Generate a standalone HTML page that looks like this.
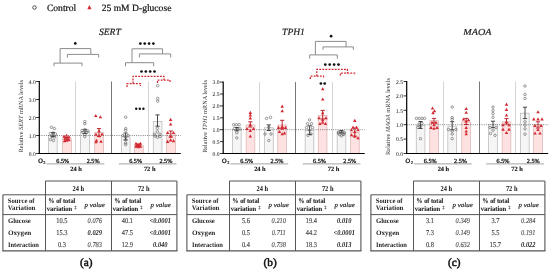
<!DOCTYPE html>
<html><head><meta charset="utf-8"><style>
html,body{margin:0;padding:0;background:#fff;}
svg{display:block;font-family:"Liberation Serif", serif;will-change:transform;text-rendering:geometricPrecision;}
</style></head><body>
<svg width="550" height="272" viewBox="0 0 550 272">
<rect width="550" height="272" fill="#fff"/>
<circle cx="34.5" cy="7.5" r="1.75" fill="none" stroke="#444" stroke-width="0.95"/>
<text x="46.9" y="10.6" font-size="9.6" text-anchor="start" font-weight="normal" font-style="normal" fill="#111" textLength="29.4" lengthAdjust="spacingAndGlyphs" stroke="#111" stroke-width="0.2" >Control</text>
<polygon points="89.4,5.0 91.5,9.2 87.3,9.2" fill="#d22a33"/>
<text x="101.7" y="10.6" font-size="9.6" text-anchor="start" font-weight="normal" font-style="normal" fill="#111" textLength="69.7" lengthAdjust="spacingAndGlyphs" stroke="#111" stroke-width="0.2" >25 mM D-glucose</text>
<text x="98.9" y="34.6" font-size="9.6" text-anchor="start" font-weight="normal" font-style="italic" fill="#222" textLength="21.9" lengthAdjust="spacingAndGlyphs" stroke="#222" stroke-width="0.2" >SERT</text>
<line x1="75.5" y1="81.5" x2="75.5" y2="153.5" stroke="#d0d0d0" stroke-width="0.9" />
<line x1="111.5" y1="81.5" x2="111.5" y2="153.5" stroke="#777" stroke-width="1.0" />
<line x1="148.5" y1="81.5" x2="148.5" y2="153.5" stroke="#d0d0d0" stroke-width="0.9" />
<rect x="48.45" y="135.5" width="8.700000000000001" height="18.0" fill="#f5f5f5" stroke="#b5b5b5" stroke-width="0.7"/>
<rect x="62.65" y="138.74" width="8.700000000000001" height="14.76" fill="#fee2e2" stroke="#dcb0b0" stroke-width="0.7"/>
<rect x="80.64999999999999" y="131.9" width="8.700000000000001" height="21.599999999999998" fill="#f5f5f5" stroke="#b5b5b5" stroke-width="0.7"/>
<rect x="94.75" y="132.44" width="8.700000000000001" height="21.06" fill="#fee2e2" stroke="#dcb0b0" stroke-width="0.7"/>
<rect x="121.35" y="136.94" width="8.700000000000001" height="16.560000000000002" fill="#f5f5f5" stroke="#b5b5b5" stroke-width="0.7"/>
<rect x="134.54999999999998" y="145.4" width="8.700000000000001" height="8.1" fill="#fee2e2" stroke="#dcb0b0" stroke-width="0.7"/>
<rect x="153.25" y="121.46000000000001" width="8.700000000000001" height="32.04" fill="#f5f5f5" stroke="#b5b5b5" stroke-width="0.7"/>
<rect x="166.65" y="133.7" width="8.700000000000001" height="19.8" fill="#fee2e2" stroke="#dcb0b0" stroke-width="0.7"/>
<line x1="39.3" y1="135.5" x2="180.8" y2="135.5" stroke="#333" stroke-width="0.6" stroke-dasharray="1,1.2"/>
<line x1="39.3" y1="81.0" x2="39.3" y2="154.1" stroke="#000" stroke-width="1.2" />
<line x1="38.699999999999996" y1="153.5" x2="180.8" y2="153.5" stroke="#000" stroke-width="1.2" />
<line x1="36.099999999999994" y1="153.5" x2="39.3" y2="153.5" stroke="#000" stroke-width="0.8" />
<text x="35.699999999999996" y="155.8" font-size="5.6" text-anchor="end" font-weight="normal" font-style="normal" fill="#333" stroke="#333" stroke-width="0.06" >0.0</text>
<line x1="36.099999999999994" y1="135.5" x2="39.3" y2="135.5" stroke="#000" stroke-width="0.8" />
<text x="35.699999999999996" y="137.8" font-size="5.6" text-anchor="end" font-weight="normal" font-style="normal" fill="#333" stroke="#333" stroke-width="0.06" >1.0</text>
<line x1="36.099999999999994" y1="117.5" x2="39.3" y2="117.5" stroke="#000" stroke-width="0.8" />
<text x="35.699999999999996" y="119.8" font-size="5.6" text-anchor="end" font-weight="normal" font-style="normal" fill="#333" stroke="#333" stroke-width="0.06" >2.0</text>
<line x1="36.099999999999994" y1="99.5" x2="39.3" y2="99.5" stroke="#000" stroke-width="0.8" />
<text x="35.699999999999996" y="101.8" font-size="5.6" text-anchor="end" font-weight="normal" font-style="normal" fill="#333" stroke="#333" stroke-width="0.06" >3.0</text>
<line x1="36.099999999999994" y1="81.5" x2="39.3" y2="81.5" stroke="#000" stroke-width="0.8" />
<text x="35.699999999999996" y="83.8" font-size="5.6" text-anchor="end" font-weight="normal" font-style="normal" fill="#333" stroke="#333" stroke-width="0.06" >4.0</text>
<text transform="translate(22.599999999999998,116.2) rotate(-90)" x="0" y="0" font-size="6.3" text-anchor="middle" fill="#333" textLength="72.5" lengthAdjust="spacingAndGlyphs">Relative <tspan font-style="italic">SERT</tspan> mRNA levels</text>
<text x="38.199999999999996" y="162.5" font-size="6.6" text-anchor="start" font-weight="normal" font-style="normal" fill="#111" textLength="4.6" lengthAdjust="spacingAndGlyphs" stroke="#111" stroke-width="0.35" >O</text>
<text x="43.3" y="163.6" font-size="4.4" text-anchor="start" font-weight="normal" font-style="normal" fill="#111" stroke="#111" stroke-width="0.2" >2</text>
<text x="62.8" y="162.8" font-size="6.2" text-anchor="middle" font-weight="normal" font-style="normal" fill="#222" stroke="#222" stroke-width="0.3" >6.5%</text>
<text x="93.1" y="162.8" font-size="6.2" text-anchor="middle" font-weight="normal" font-style="normal" fill="#222" stroke="#222" stroke-width="0.3" >2.5%</text>
<text x="135.6" y="162.8" font-size="6.2" text-anchor="middle" font-weight="normal" font-style="normal" fill="#222" stroke="#222" stroke-width="0.3" >6.5%</text>
<text x="165.89999999999998" y="162.8" font-size="6.2" text-anchor="middle" font-weight="normal" font-style="normal" fill="#222" stroke="#222" stroke-width="0.3" >2.5%</text>
<line x1="46.5" y1="163.9" x2="104.3" y2="163.9" stroke="#999" stroke-width="0.9" />
<line x1="118.8" y1="163.9" x2="176.5" y2="163.9" stroke="#999" stroke-width="0.9" />
<text x="76.0" y="170.6" font-size="6.4" text-anchor="middle" font-weight="bold" font-style="normal" fill="#111" stroke="#111" stroke-width="0.1" >24 h</text>
<text x="149.7" y="170.6" font-size="6.4" text-anchor="middle" font-weight="bold" font-style="normal" fill="#111" stroke="#111" stroke-width="0.1" >72 h</text>
<text x="282.1" y="34.9" font-size="9.6" text-anchor="start" font-weight="normal" font-style="italic" fill="#222" textLength="22.8" lengthAdjust="spacingAndGlyphs" stroke="#222" stroke-width="0.2" >TPH1</text>
<line x1="259.5" y1="82.1" x2="259.5" y2="153.5" stroke="#d0d0d0" stroke-width="0.9" />
<line x1="295.5" y1="82.1" x2="295.5" y2="153.5" stroke="#777" stroke-width="1.0" />
<line x1="332.5" y1="82.1" x2="332.5" y2="153.5" stroke="#d0d0d0" stroke-width="0.9" />
<rect x="232.45" y="129.7" width="8.700000000000001" height="23.8" fill="#f5f5f5" stroke="#b5b5b5" stroke-width="0.7"/>
<rect x="246.15" y="124.94" width="8.700000000000001" height="28.56" fill="#fee2e2" stroke="#dcb0b0" stroke-width="0.7"/>
<rect x="264.55" y="127.79599999999999" width="8.700000000000001" height="25.704000000000004" fill="#f5f5f5" stroke="#b5b5b5" stroke-width="0.7"/>
<rect x="277.75" y="124.94" width="8.700000000000001" height="28.56" fill="#fee2e2" stroke="#dcb0b0" stroke-width="0.7"/>
<rect x="305.15000000000003" y="130.414" width="8.700000000000001" height="23.086" fill="#f5f5f5" stroke="#b5b5b5" stroke-width="0.7"/>
<rect x="318.25" y="115.41999999999999" width="8.700000000000001" height="38.080000000000005" fill="#fee2e2" stroke="#dcb0b0" stroke-width="0.7"/>
<rect x="337.15000000000003" y="132.07999999999998" width="8.700000000000001" height="21.42" fill="#f5f5f5" stroke="#b5b5b5" stroke-width="0.7"/>
<rect x="350.55" y="132.556" width="8.700000000000001" height="20.944" fill="#fee2e2" stroke="#dcb0b0" stroke-width="0.7"/>
<line x1="223.2" y1="129.7" x2="364.7" y2="129.7" stroke="#333" stroke-width="0.6" stroke-dasharray="1,1.2"/>
<line x1="223.2" y1="81.6" x2="223.2" y2="154.1" stroke="#000" stroke-width="1.2" />
<line x1="222.6" y1="153.5" x2="364.7" y2="153.5" stroke="#000" stroke-width="1.2" />
<line x1="220.0" y1="153.5" x2="223.2" y2="153.5" stroke="#000" stroke-width="0.8" />
<text x="219.6" y="155.8" font-size="5.6" text-anchor="end" font-weight="normal" font-style="normal" fill="#333" stroke="#333" stroke-width="0.06" >0.0</text>
<line x1="220.0" y1="141.6" x2="223.2" y2="141.6" stroke="#000" stroke-width="0.8" />
<text x="219.6" y="143.9" font-size="5.6" text-anchor="end" font-weight="normal" font-style="normal" fill="#333" stroke="#333" stroke-width="0.06" >0.5</text>
<line x1="220.0" y1="129.7" x2="223.2" y2="129.7" stroke="#000" stroke-width="0.8" />
<text x="219.6" y="132.0" font-size="5.6" text-anchor="end" font-weight="normal" font-style="normal" fill="#333" stroke="#333" stroke-width="0.06" >1.0</text>
<line x1="220.0" y1="117.8" x2="223.2" y2="117.8" stroke="#000" stroke-width="0.8" />
<text x="219.6" y="120.1" font-size="5.6" text-anchor="end" font-weight="normal" font-style="normal" fill="#333" stroke="#333" stroke-width="0.06" >1.5</text>
<line x1="220.0" y1="105.9" x2="223.2" y2="105.9" stroke="#000" stroke-width="0.8" />
<text x="219.6" y="108.2" font-size="5.6" text-anchor="end" font-weight="normal" font-style="normal" fill="#333" stroke="#333" stroke-width="0.06" >2.0</text>
<line x1="220.0" y1="94.0" x2="223.2" y2="94.0" stroke="#000" stroke-width="0.8" />
<text x="219.6" y="96.3" font-size="5.6" text-anchor="end" font-weight="normal" font-style="normal" fill="#333" stroke="#333" stroke-width="0.06" >2.5</text>
<line x1="220.0" y1="82.1" x2="223.2" y2="82.1" stroke="#000" stroke-width="0.8" />
<text x="219.6" y="84.39999999999999" font-size="5.6" text-anchor="end" font-weight="normal" font-style="normal" fill="#333" stroke="#333" stroke-width="0.06" >3.0</text>
<text transform="translate(206.5,116.4) rotate(-90)" x="0" y="0" font-size="6.3" text-anchor="middle" fill="#333" textLength="72.9" lengthAdjust="spacingAndGlyphs">Relative <tspan font-style="italic">TPH1</tspan> mRNA levels</text>
<text x="222.1" y="162.5" font-size="6.6" text-anchor="start" font-weight="normal" font-style="normal" fill="#111" textLength="4.6" lengthAdjust="spacingAndGlyphs" stroke="#111" stroke-width="0.35" >O</text>
<text x="227.2" y="163.6" font-size="4.4" text-anchor="start" font-weight="normal" font-style="normal" fill="#111" stroke="#111" stroke-width="0.2" >2</text>
<text x="246.7" y="162.8" font-size="6.2" text-anchor="middle" font-weight="normal" font-style="normal" fill="#222" stroke="#222" stroke-width="0.3" >6.5%</text>
<text x="277.0" y="162.8" font-size="6.2" text-anchor="middle" font-weight="normal" font-style="normal" fill="#222" stroke="#222" stroke-width="0.3" >2.5%</text>
<text x="319.5" y="162.8" font-size="6.2" text-anchor="middle" font-weight="normal" font-style="normal" fill="#222" stroke="#222" stroke-width="0.3" >6.5%</text>
<text x="349.79999999999995" y="162.8" font-size="6.2" text-anchor="middle" font-weight="normal" font-style="normal" fill="#222" stroke="#222" stroke-width="0.3" >2.5%</text>
<line x1="230.39999999999998" y1="163.9" x2="288.2" y2="163.9" stroke="#999" stroke-width="0.9" />
<line x1="302.7" y1="163.9" x2="360.4" y2="163.9" stroke="#999" stroke-width="0.9" />
<text x="259.9" y="170.6" font-size="6.4" text-anchor="middle" font-weight="bold" font-style="normal" fill="#111" stroke="#111" stroke-width="0.1" >24 h</text>
<text x="333.6" y="170.6" font-size="6.4" text-anchor="middle" font-weight="bold" font-style="normal" fill="#111" stroke="#111" stroke-width="0.1" >72 h</text>
<text x="463.3" y="35.3" font-size="9.2" text-anchor="start" font-weight="normal" font-style="italic" fill="#222" textLength="28.1" lengthAdjust="spacingAndGlyphs" stroke="#222" stroke-width="0.2" >MAOA</text>
<line x1="443.5" y1="81.5" x2="443.5" y2="153.5" stroke="#d0d0d0" stroke-width="0.9" />
<line x1="479.5" y1="81.5" x2="479.5" y2="153.5" stroke="#777" stroke-width="1.0" />
<line x1="515.5" y1="81.5" x2="515.5" y2="153.5" stroke="#d0d0d0" stroke-width="0.9" />
<rect x="416.25" y="125.564" width="8.700000000000001" height="27.936" fill="#f5f5f5" stroke="#b5b5b5" stroke-width="0.7"/>
<rect x="429.75" y="120.668" width="8.700000000000001" height="32.832" fill="#fee2e2" stroke="#dcb0b0" stroke-width="0.7"/>
<rect x="447.85" y="126.14" width="8.700000000000001" height="27.36" fill="#f5f5f5" stroke="#b5b5b5" stroke-width="0.7"/>
<rect x="461.75" y="121.82" width="8.700000000000001" height="31.680000000000003" fill="#fee2e2" stroke="#dcb0b0" stroke-width="0.7"/>
<rect x="488.65000000000003" y="124.7" width="8.700000000000001" height="28.8" fill="#f5f5f5" stroke="#b5b5b5" stroke-width="0.7"/>
<rect x="502.15000000000003" y="121.82" width="8.700000000000001" height="31.680000000000003" fill="#fee2e2" stroke="#dcb0b0" stroke-width="0.7"/>
<rect x="520.45" y="113.18" width="8.700000000000001" height="40.32" fill="#f5f5f5" stroke="#b5b5b5" stroke-width="0.7"/>
<rect x="533.65" y="124.7" width="8.700000000000001" height="28.8" fill="#fee2e2" stroke="#dcb0b0" stroke-width="0.7"/>
<line x1="406.7" y1="124.7" x2="548.2" y2="124.7" stroke="#333" stroke-width="0.6" stroke-dasharray="1,1.2"/>
<line x1="406.7" y1="81.0" x2="406.7" y2="154.1" stroke="#000" stroke-width="1.2" />
<line x1="406.09999999999997" y1="153.5" x2="548.2" y2="153.5" stroke="#000" stroke-width="1.2" />
<line x1="403.5" y1="153.5" x2="406.7" y2="153.5" stroke="#000" stroke-width="0.8" />
<text x="403.09999999999997" y="155.8" font-size="5.6" text-anchor="end" font-weight="normal" font-style="normal" fill="#333" stroke="#333" stroke-width="0.06" >0.0</text>
<line x1="403.5" y1="139.1" x2="406.7" y2="139.1" stroke="#000" stroke-width="0.8" />
<text x="403.09999999999997" y="141.4" font-size="5.6" text-anchor="end" font-weight="normal" font-style="normal" fill="#333" stroke="#333" stroke-width="0.06" >0.5</text>
<line x1="403.5" y1="124.7" x2="406.7" y2="124.7" stroke="#000" stroke-width="0.8" />
<text x="403.09999999999997" y="127.0" font-size="5.6" text-anchor="end" font-weight="normal" font-style="normal" fill="#333" stroke="#333" stroke-width="0.06" >1.0</text>
<line x1="403.5" y1="110.3" x2="406.7" y2="110.3" stroke="#000" stroke-width="0.8" />
<text x="403.09999999999997" y="112.6" font-size="5.6" text-anchor="end" font-weight="normal" font-style="normal" fill="#333" stroke="#333" stroke-width="0.06" >1.5</text>
<line x1="403.5" y1="95.9" x2="406.7" y2="95.9" stroke="#000" stroke-width="0.8" />
<text x="403.09999999999997" y="98.2" font-size="5.6" text-anchor="end" font-weight="normal" font-style="normal" fill="#333" stroke="#333" stroke-width="0.06" >2.0</text>
<line x1="403.5" y1="81.5" x2="406.7" y2="81.5" stroke="#000" stroke-width="0.8" />
<text x="403.09999999999997" y="83.8" font-size="5.6" text-anchor="end" font-weight="normal" font-style="normal" fill="#333" stroke="#333" stroke-width="0.06" >2.5</text>
<text transform="translate(390.0,116.6) rotate(-90)" x="0" y="0" font-size="6.3" text-anchor="middle" fill="#333" textLength="77.0" lengthAdjust="spacingAndGlyphs">Relative <tspan font-style="italic">MAOA</tspan> mRNA levels</text>
<text x="405.59999999999997" y="162.5" font-size="6.6" text-anchor="start" font-weight="normal" font-style="normal" fill="#111" textLength="4.6" lengthAdjust="spacingAndGlyphs" stroke="#111" stroke-width="0.35" >O</text>
<text x="410.7" y="163.6" font-size="4.4" text-anchor="start" font-weight="normal" font-style="normal" fill="#111" stroke="#111" stroke-width="0.2" >2</text>
<text x="430.2" y="162.8" font-size="6.2" text-anchor="middle" font-weight="normal" font-style="normal" fill="#222" stroke="#222" stroke-width="0.3" >6.5%</text>
<text x="460.5" y="162.8" font-size="6.2" text-anchor="middle" font-weight="normal" font-style="normal" fill="#222" stroke="#222" stroke-width="0.3" >2.5%</text>
<text x="503.0" y="162.8" font-size="6.2" text-anchor="middle" font-weight="normal" font-style="normal" fill="#222" stroke="#222" stroke-width="0.3" >6.5%</text>
<text x="533.3" y="162.8" font-size="6.2" text-anchor="middle" font-weight="normal" font-style="normal" fill="#222" stroke="#222" stroke-width="0.3" >2.5%</text>
<line x1="413.9" y1="163.9" x2="471.7" y2="163.9" stroke="#999" stroke-width="0.9" />
<line x1="486.2" y1="163.9" x2="543.9" y2="163.9" stroke="#999" stroke-width="0.9" />
<text x="443.4" y="170.6" font-size="6.4" text-anchor="middle" font-weight="bold" font-style="normal" fill="#111" stroke="#111" stroke-width="0.1" >24 h</text>
<text x="517.1" y="170.6" font-size="6.4" text-anchor="middle" font-weight="bold" font-style="normal" fill="#111" stroke="#111" stroke-width="0.1" >72 h</text>
<line x1="53" y1="132.5" x2="53" y2="136.5" stroke="#333" stroke-width="0.9" />
<line x1="50.9" y1="132.5" x2="55.1" y2="132.5" stroke="#333" stroke-width="0.9" />
<line x1="50.9" y1="136.5" x2="55.1" y2="136.5" stroke="#333" stroke-width="0.9" />
<line x1="66.8" y1="137.5" x2="66.8" y2="140.2" stroke="#b3121c" stroke-width="0.9" />
<line x1="64.7" y1="137.5" x2="68.89999999999999" y2="137.5" stroke="#b3121c" stroke-width="0.9" />
<line x1="64.7" y1="140.2" x2="68.89999999999999" y2="140.2" stroke="#b3121c" stroke-width="0.9" />
<line x1="85" y1="129.3" x2="85" y2="133.5" stroke="#333" stroke-width="0.9" />
<line x1="82.9" y1="129.3" x2="87.1" y2="129.3" stroke="#333" stroke-width="0.9" />
<line x1="82.9" y1="133.5" x2="87.1" y2="133.5" stroke="#333" stroke-width="0.9" />
<line x1="99" y1="128.6" x2="99" y2="136.5" stroke="#b3121c" stroke-width="0.9" />
<line x1="96.9" y1="128.6" x2="101.1" y2="128.6" stroke="#b3121c" stroke-width="0.9" />
<line x1="96.9" y1="136.5" x2="101.1" y2="136.5" stroke="#b3121c" stroke-width="0.9" />
<line x1="125.6" y1="133" x2="125.6" y2="140" stroke="#333" stroke-width="0.9" />
<line x1="123.5" y1="133" x2="127.69999999999999" y2="133" stroke="#333" stroke-width="0.9" />
<line x1="123.5" y1="140" x2="127.69999999999999" y2="140" stroke="#333" stroke-width="0.9" />
<line x1="138.3" y1="144" x2="138.3" y2="146.8" stroke="#b3121c" stroke-width="0.9" />
<line x1="136.20000000000002" y1="144" x2="140.4" y2="144" stroke="#b3121c" stroke-width="0.9" />
<line x1="136.20000000000002" y1="146.8" x2="140.4" y2="146.8" stroke="#b3121c" stroke-width="0.9" />
<line x1="157.5" y1="114.9" x2="157.5" y2="126.2" stroke="#333" stroke-width="0.9" />
<line x1="155.4" y1="114.9" x2="159.6" y2="114.9" stroke="#333" stroke-width="0.9" />
<line x1="155.4" y1="126.2" x2="159.6" y2="126.2" stroke="#333" stroke-width="0.9" />
<line x1="170.8" y1="131" x2="170.8" y2="137" stroke="#b3121c" stroke-width="0.9" />
<line x1="168.70000000000002" y1="131" x2="172.9" y2="131" stroke="#b3121c" stroke-width="0.9" />
<line x1="168.70000000000002" y1="137" x2="172.9" y2="137" stroke="#b3121c" stroke-width="0.9" />
<line x1="236.8" y1="127.5" x2="236.8" y2="130.8" stroke="#333" stroke-width="0.9" />
<line x1="234.70000000000002" y1="127.5" x2="238.9" y2="127.5" stroke="#333" stroke-width="0.9" />
<line x1="234.70000000000002" y1="130.8" x2="238.9" y2="130.8" stroke="#333" stroke-width="0.9" />
<line x1="250.3" y1="121.8" x2="250.3" y2="127" stroke="#b3121c" stroke-width="0.9" />
<line x1="248.20000000000002" y1="121.8" x2="252.4" y2="121.8" stroke="#b3121c" stroke-width="0.9" />
<line x1="248.20000000000002" y1="127" x2="252.4" y2="127" stroke="#b3121c" stroke-width="0.9" />
<line x1="268.8" y1="124.9" x2="268.8" y2="130.5" stroke="#333" stroke-width="0.9" />
<line x1="266.7" y1="124.9" x2="270.90000000000003" y2="124.9" stroke="#333" stroke-width="0.9" />
<line x1="266.7" y1="130.5" x2="270.90000000000003" y2="130.5" stroke="#333" stroke-width="0.9" />
<line x1="282.2" y1="120.3" x2="282.2" y2="128.3" stroke="#b3121c" stroke-width="0.9" />
<line x1="280.09999999999997" y1="120.3" x2="284.3" y2="120.3" stroke="#b3121c" stroke-width="0.9" />
<line x1="280.09999999999997" y1="128.3" x2="284.3" y2="128.3" stroke="#b3121c" stroke-width="0.9" />
<line x1="309.6" y1="125.8" x2="309.6" y2="134.5" stroke="#333" stroke-width="0.9" />
<line x1="307.5" y1="125.8" x2="311.70000000000005" y2="125.8" stroke="#333" stroke-width="0.9" />
<line x1="307.5" y1="134.5" x2="311.70000000000005" y2="134.5" stroke="#333" stroke-width="0.9" />
<line x1="322.7" y1="110.4" x2="322.7" y2="119" stroke="#b3121c" stroke-width="0.9" />
<line x1="320.59999999999997" y1="110.4" x2="324.8" y2="110.4" stroke="#b3121c" stroke-width="0.9" />
<line x1="320.59999999999997" y1="119" x2="324.8" y2="119" stroke="#b3121c" stroke-width="0.9" />
<line x1="341.4" y1="130.5" x2="341.4" y2="133" stroke="#333" stroke-width="0.9" />
<line x1="339.29999999999995" y1="130.5" x2="343.5" y2="130.5" stroke="#333" stroke-width="0.9" />
<line x1="339.29999999999995" y1="133" x2="343.5" y2="133" stroke="#333" stroke-width="0.9" />
<line x1="354.8" y1="128" x2="354.8" y2="136.2" stroke="#b3121c" stroke-width="0.9" />
<line x1="352.7" y1="128" x2="356.90000000000003" y2="128" stroke="#b3121c" stroke-width="0.9" />
<line x1="352.7" y1="136.2" x2="356.90000000000003" y2="136.2" stroke="#b3121c" stroke-width="0.9" />
<line x1="420.5" y1="121.5" x2="420.5" y2="128.5" stroke="#333" stroke-width="0.9" />
<line x1="418.4" y1="121.5" x2="422.6" y2="121.5" stroke="#333" stroke-width="0.9" />
<line x1="418.4" y1="128.5" x2="422.6" y2="128.5" stroke="#333" stroke-width="0.9" />
<line x1="434" y1="118.4" x2="434" y2="123" stroke="#b3121c" stroke-width="0.9" />
<line x1="431.9" y1="118.4" x2="436.1" y2="118.4" stroke="#b3121c" stroke-width="0.9" />
<line x1="431.9" y1="123" x2="436.1" y2="123" stroke="#b3121c" stroke-width="0.9" />
<line x1="452.2" y1="121.7" x2="452.2" y2="129.8" stroke="#333" stroke-width="0.9" />
<line x1="450.09999999999997" y1="121.7" x2="454.3" y2="121.7" stroke="#333" stroke-width="0.9" />
<line x1="450.09999999999997" y1="129.8" x2="454.3" y2="129.8" stroke="#333" stroke-width="0.9" />
<line x1="466.2" y1="118.4" x2="466.2" y2="124.5" stroke="#b3121c" stroke-width="0.9" />
<line x1="464.09999999999997" y1="118.4" x2="468.3" y2="118.4" stroke="#b3121c" stroke-width="0.9" />
<line x1="464.09999999999997" y1="124.5" x2="468.3" y2="124.5" stroke="#b3121c" stroke-width="0.9" />
<line x1="493" y1="121.2" x2="493" y2="127.6" stroke="#333" stroke-width="0.9" />
<line x1="490.9" y1="121.2" x2="495.1" y2="121.2" stroke="#333" stroke-width="0.9" />
<line x1="490.9" y1="127.6" x2="495.1" y2="127.6" stroke="#333" stroke-width="0.9" />
<line x1="506.5" y1="118.6" x2="506.5" y2="124" stroke="#b3121c" stroke-width="0.9" />
<line x1="504.4" y1="118.6" x2="508.6" y2="118.6" stroke="#b3121c" stroke-width="0.9" />
<line x1="504.4" y1="124" x2="508.6" y2="124" stroke="#b3121c" stroke-width="0.9" />
<line x1="525" y1="107.2" x2="525" y2="118.6" stroke="#333" stroke-width="0.9" />
<line x1="522.9" y1="107.2" x2="527.1" y2="107.2" stroke="#333" stroke-width="0.9" />
<line x1="522.9" y1="118.6" x2="527.1" y2="118.6" stroke="#333" stroke-width="0.9" />
<line x1="538" y1="121.8" x2="538" y2="128" stroke="#b3121c" stroke-width="0.9" />
<line x1="535.9" y1="121.8" x2="540.1" y2="121.8" stroke="#b3121c" stroke-width="0.9" />
<line x1="535.9" y1="128" x2="540.1" y2="128" stroke="#b3121c" stroke-width="0.9" />
<circle cx="51.5" cy="127.3" r="1.25" fill="none" stroke="#5a5a5a" stroke-width="0.6"/>
<circle cx="54.4" cy="128.6" r="1.25" fill="none" stroke="#5a5a5a" stroke-width="0.6"/>
<circle cx="50.5" cy="133.5" r="1.25" fill="none" stroke="#5a5a5a" stroke-width="0.6"/>
<circle cx="53" cy="133" r="1.25" fill="none" stroke="#5a5a5a" stroke-width="0.6"/>
<circle cx="55.5" cy="134" r="1.25" fill="none" stroke="#5a5a5a" stroke-width="0.6"/>
<circle cx="52" cy="136.5" r="1.25" fill="none" stroke="#5a5a5a" stroke-width="0.6"/>
<circle cx="54.5" cy="137" r="1.25" fill="none" stroke="#5a5a5a" stroke-width="0.6"/>
<circle cx="50.5" cy="139.5" r="1.25" fill="none" stroke="#5a5a5a" stroke-width="0.6"/>
<circle cx="53.5" cy="140.5" r="1.25" fill="none" stroke="#5a5a5a" stroke-width="0.6"/>
<circle cx="84.8" cy="121.6" r="1.25" fill="none" stroke="#5a5a5a" stroke-width="0.6"/>
<circle cx="84.8" cy="123.8" r="1.25" fill="none" stroke="#5a5a5a" stroke-width="0.6"/>
<circle cx="82" cy="130.5" r="1.25" fill="none" stroke="#5a5a5a" stroke-width="0.6"/>
<circle cx="85" cy="130" r="1.25" fill="none" stroke="#5a5a5a" stroke-width="0.6"/>
<circle cx="88" cy="131" r="1.25" fill="none" stroke="#5a5a5a" stroke-width="0.6"/>
<circle cx="83" cy="132.5" r="1.25" fill="none" stroke="#5a5a5a" stroke-width="0.6"/>
<circle cx="86.5" cy="132.5" r="1.25" fill="none" stroke="#5a5a5a" stroke-width="0.6"/>
<circle cx="84.8" cy="134.5" r="1.25" fill="none" stroke="#5a5a5a" stroke-width="0.6"/>
<circle cx="84.8" cy="136.6" r="1.25" fill="none" stroke="#5a5a5a" stroke-width="0.6"/>
<circle cx="125.7" cy="117.2" r="1.25" fill="none" stroke="#5a5a5a" stroke-width="0.6"/>
<circle cx="125.7" cy="128.6" r="1.25" fill="none" stroke="#5a5a5a" stroke-width="0.6"/>
<circle cx="125.7" cy="130.3" r="1.25" fill="none" stroke="#5a5a5a" stroke-width="0.6"/>
<circle cx="123" cy="135.5" r="1.25" fill="none" stroke="#5a5a5a" stroke-width="0.6"/>
<circle cx="128" cy="135.5" r="1.25" fill="none" stroke="#5a5a5a" stroke-width="0.6"/>
<circle cx="125.7" cy="137" r="1.25" fill="none" stroke="#5a5a5a" stroke-width="0.6"/>
<circle cx="125.7" cy="139.7" r="1.25" fill="none" stroke="#5a5a5a" stroke-width="0.6"/>
<circle cx="125.7" cy="143" r="1.25" fill="none" stroke="#5a5a5a" stroke-width="0.6"/>
<circle cx="125.7" cy="144.6" r="1.25" fill="none" stroke="#5a5a5a" stroke-width="0.6"/>
<circle cx="157.7" cy="85.6" r="1.25" fill="none" stroke="#5a5a5a" stroke-width="0.6"/>
<circle cx="157.7" cy="98.4" r="1.25" fill="none" stroke="#5a5a5a" stroke-width="0.6"/>
<circle cx="157.7" cy="101.1" r="1.25" fill="none" stroke="#5a5a5a" stroke-width="0.6"/>
<circle cx="157.4" cy="128.4" r="1.25" fill="none" stroke="#5a5a5a" stroke-width="0.6"/>
<circle cx="157.4" cy="131.8" r="1.25" fill="none" stroke="#5a5a5a" stroke-width="0.6"/>
<circle cx="154.5" cy="134.3" r="1.25" fill="none" stroke="#5a5a5a" stroke-width="0.6"/>
<circle cx="160" cy="134.3" r="1.25" fill="none" stroke="#5a5a5a" stroke-width="0.6"/>
<circle cx="157.4" cy="137.2" r="1.25" fill="none" stroke="#5a5a5a" stroke-width="0.6"/>
<circle cx="155" cy="136" r="1.25" fill="none" stroke="#5a5a5a" stroke-width="0.6"/>
<circle cx="160" cy="136.5" r="1.25" fill="none" stroke="#5a5a5a" stroke-width="0.6"/>
<circle cx="233.6" cy="124.7" r="1.25" fill="none" stroke="#5a5a5a" stroke-width="0.6"/>
<circle cx="236.4" cy="124.7" r="1.25" fill="none" stroke="#5a5a5a" stroke-width="0.6"/>
<circle cx="239.2" cy="124.7" r="1.25" fill="none" stroke="#5a5a5a" stroke-width="0.6"/>
<circle cx="234.5" cy="128.5" r="1.25" fill="none" stroke="#5a5a5a" stroke-width="0.6"/>
<circle cx="237.5" cy="129.5" r="1.25" fill="none" stroke="#5a5a5a" stroke-width="0.6"/>
<circle cx="240" cy="128.8" r="1.25" fill="none" stroke="#5a5a5a" stroke-width="0.6"/>
<circle cx="236.8" cy="132.8" r="1.25" fill="none" stroke="#5a5a5a" stroke-width="0.6"/>
<circle cx="236.8" cy="137.9" r="1.25" fill="none" stroke="#5a5a5a" stroke-width="0.6"/>
<circle cx="266.5" cy="118.4" r="1.25" fill="none" stroke="#5a5a5a" stroke-width="0.6"/>
<circle cx="270.5" cy="117.5" r="1.25" fill="none" stroke="#5a5a5a" stroke-width="0.6"/>
<circle cx="268.8" cy="127.3" r="1.25" fill="none" stroke="#5a5a5a" stroke-width="0.6"/>
<circle cx="265" cy="134" r="1.25" fill="none" stroke="#5a5a5a" stroke-width="0.6"/>
<circle cx="271" cy="134" r="1.25" fill="none" stroke="#5a5a5a" stroke-width="0.6"/>
<circle cx="268.8" cy="140.5" r="1.25" fill="none" stroke="#5a5a5a" stroke-width="0.6"/>
<circle cx="309.6" cy="119.9" r="1.25" fill="none" stroke="#5a5a5a" stroke-width="0.6"/>
<circle cx="307.5" cy="123.7" r="1.25" fill="none" stroke="#5a5a5a" stroke-width="0.6"/>
<circle cx="311.5" cy="123.7" r="1.25" fill="none" stroke="#5a5a5a" stroke-width="0.6"/>
<circle cx="306.5" cy="127.6" r="1.25" fill="none" stroke="#5a5a5a" stroke-width="0.6"/>
<circle cx="312.5" cy="127.6" r="1.25" fill="none" stroke="#5a5a5a" stroke-width="0.6"/>
<circle cx="309.6" cy="130.2" r="1.25" fill="none" stroke="#5a5a5a" stroke-width="0.6"/>
<circle cx="308" cy="135.3" r="1.25" fill="none" stroke="#5a5a5a" stroke-width="0.6"/>
<circle cx="311" cy="134" r="1.25" fill="none" stroke="#5a5a5a" stroke-width="0.6"/>
<circle cx="338.5" cy="132" r="1.25" fill="none" stroke="#5a5a5a" stroke-width="0.6"/>
<circle cx="341.4" cy="131.5" r="1.25" fill="none" stroke="#5a5a5a" stroke-width="0.6"/>
<circle cx="344.2" cy="132.3" r="1.25" fill="none" stroke="#5a5a5a" stroke-width="0.6"/>
<circle cx="339.5" cy="134.5" r="1.25" fill="none" stroke="#5a5a5a" stroke-width="0.6"/>
<circle cx="343" cy="134.5" r="1.25" fill="none" stroke="#5a5a5a" stroke-width="0.6"/>
<circle cx="341.4" cy="135.8" r="1.25" fill="none" stroke="#5a5a5a" stroke-width="0.6"/>
<circle cx="338.5" cy="133.2" r="1.25" fill="none" stroke="#5a5a5a" stroke-width="0.6"/>
<circle cx="344" cy="134" r="1.25" fill="none" stroke="#5a5a5a" stroke-width="0.6"/>
<circle cx="416.4" cy="118.4" r="1.25" fill="none" stroke="#5a5a5a" stroke-width="0.6"/>
<circle cx="419.2" cy="118.4" r="1.25" fill="none" stroke="#5a5a5a" stroke-width="0.6"/>
<circle cx="422" cy="118.4" r="1.25" fill="none" stroke="#5a5a5a" stroke-width="0.6"/>
<circle cx="424.6" cy="118.4" r="1.25" fill="none" stroke="#5a5a5a" stroke-width="0.6"/>
<circle cx="419" cy="124" r="1.25" fill="none" stroke="#5a5a5a" stroke-width="0.6"/>
<circle cx="422" cy="123.5" r="1.25" fill="none" stroke="#5a5a5a" stroke-width="0.6"/>
<circle cx="420.5" cy="126.5" r="1.25" fill="none" stroke="#5a5a5a" stroke-width="0.6"/>
<circle cx="418" cy="127.5" r="1.25" fill="none" stroke="#5a5a5a" stroke-width="0.6"/>
<circle cx="420.5" cy="138.7" r="1.25" fill="none" stroke="#5a5a5a" stroke-width="0.6"/>
<circle cx="452.2" cy="107" r="1.25" fill="none" stroke="#5a5a5a" stroke-width="0.6"/>
<circle cx="452.2" cy="117.5" r="1.25" fill="none" stroke="#5a5a5a" stroke-width="0.6"/>
<circle cx="452.2" cy="119.3" r="1.25" fill="none" stroke="#5a5a5a" stroke-width="0.6"/>
<circle cx="448.5" cy="129.5" r="1.25" fill="none" stroke="#5a5a5a" stroke-width="0.6"/>
<circle cx="452.2" cy="131" r="1.25" fill="none" stroke="#5a5a5a" stroke-width="0.6"/>
<circle cx="456" cy="129.5" r="1.25" fill="none" stroke="#5a5a5a" stroke-width="0.6"/>
<circle cx="452.2" cy="134" r="1.25" fill="none" stroke="#5a5a5a" stroke-width="0.6"/>
<circle cx="452.2" cy="138.7" r="1.25" fill="none" stroke="#5a5a5a" stroke-width="0.6"/>
<circle cx="493" cy="107" r="1.25" fill="none" stroke="#5a5a5a" stroke-width="0.6"/>
<circle cx="493" cy="110.4" r="1.25" fill="none" stroke="#5a5a5a" stroke-width="0.6"/>
<circle cx="493" cy="113.5" r="1.25" fill="none" stroke="#5a5a5a" stroke-width="0.6"/>
<circle cx="493" cy="117.3" r="1.25" fill="none" stroke="#5a5a5a" stroke-width="0.6"/>
<circle cx="490" cy="127.6" r="1.25" fill="none" stroke="#5a5a5a" stroke-width="0.6"/>
<circle cx="496" cy="127.6" r="1.25" fill="none" stroke="#5a5a5a" stroke-width="0.6"/>
<circle cx="493" cy="130.2" r="1.25" fill="none" stroke="#5a5a5a" stroke-width="0.6"/>
<circle cx="490.5" cy="133.5" r="1.25" fill="none" stroke="#5a5a5a" stroke-width="0.6"/>
<circle cx="495" cy="135.3" r="1.25" fill="none" stroke="#5a5a5a" stroke-width="0.6"/>
<circle cx="525" cy="86" r="1.25" fill="none" stroke="#5a5a5a" stroke-width="0.6"/>
<circle cx="525" cy="94.4" r="1.25" fill="none" stroke="#5a5a5a" stroke-width="0.6"/>
<circle cx="525" cy="98.4" r="1.25" fill="none" stroke="#5a5a5a" stroke-width="0.6"/>
<circle cx="525" cy="121.8" r="1.25" fill="none" stroke="#5a5a5a" stroke-width="0.6"/>
<circle cx="525" cy="125.2" r="1.25" fill="none" stroke="#5a5a5a" stroke-width="0.6"/>
<circle cx="525" cy="128.9" r="1.25" fill="none" stroke="#5a5a5a" stroke-width="0.6"/>
<circle cx="525" cy="134.2" r="1.25" fill="none" stroke="#5a5a5a" stroke-width="0.6"/>
<polygon points="64,134.7 65.75,137.8 62.25,137.8" fill="#d22a33"/>
<polygon points="66.5,133.7 68.25,136.8 64.75,136.8" fill="#d22a33"/>
<polygon points="69,135.2 70.75,138.3 67.25,138.3" fill="#d22a33"/>
<polygon points="65,136.7 66.75,139.8 63.25,139.8" fill="#d22a33"/>
<polygon points="68,137.2 69.75,140.3 66.25,140.3" fill="#d22a33"/>
<polygon points="66.5,138.7 68.25,141.8 64.75,141.8" fill="#d22a33"/>
<polygon points="64.5,139.2 66.25,142.3 62.75,142.3" fill="#d22a33"/>
<polygon points="69,138.2 70.75,141.3 67.25,141.3" fill="#d22a33"/>
<polygon points="95.8,113.9 97.55,117.0 94.05,117.0" fill="#d22a33"/>
<polygon points="100.4,115.2 102.15,118.3 98.65,118.3" fill="#d22a33"/>
<polygon points="99,129.2 100.75,132.3 97.25,132.3" fill="#d22a33"/>
<polygon points="96,132.7 97.75,135.8 94.25,135.8" fill="#d22a33"/>
<polygon points="102,132.5 103.75,135.60000000000002 100.25,135.60000000000002" fill="#d22a33"/>
<polygon points="99,134.2 100.75,137.3 97.25,137.3" fill="#d22a33"/>
<polygon points="96.5,138.7 98.25,141.8 94.75,141.8" fill="#d22a33"/>
<polygon points="101,139.7 102.75,142.8 99.25,142.8" fill="#d22a33"/>
<polygon points="96,140.2 97.75,143.3 94.25,143.3" fill="#d22a33"/>
<polygon points="136,141.7 137.75,144.8 134.25,144.8" fill="#d22a33"/>
<polygon points="140.5,141.7 142.25,144.8 138.75,144.8" fill="#d22a33"/>
<polygon points="138.3,143.2 140.05,146.3 136.55,146.3" fill="#d22a33"/>
<polygon points="136,144.7 137.75,147.8 134.25,147.8" fill="#d22a33"/>
<polygon points="140.5,144.7 142.25,147.8 138.75,147.8" fill="#d22a33"/>
<polygon points="138.3,145.2 140.05,148.3 136.55,148.3" fill="#d22a33"/>
<polygon points="137,143.2 138.75,146.3 135.25,146.3" fill="#d22a33"/>
<polygon points="139.7,143.2 141.45,146.3 137.95,146.3" fill="#d22a33"/>
<polygon points="170.6,117.8 172.35,120.89999999999999 168.85,120.89999999999999" fill="#d22a33"/>
<polygon points="170.6,122.5 172.35,125.6 168.85,125.6" fill="#d22a33"/>
<polygon points="167.6,131.0 169.35,134.10000000000002 165.85,134.10000000000002" fill="#d22a33"/>
<polygon points="173.5,131.0 175.25,134.10000000000002 171.75,134.10000000000002" fill="#d22a33"/>
<polygon points="170.6,134.7 172.35,137.8 168.85,137.8" fill="#d22a33"/>
<polygon points="167.6,139.79999999999998 169.35,142.9 165.85,142.9" fill="#d22a33"/>
<polygon points="173.5,139.1 175.25,142.20000000000002 171.75,142.20000000000002" fill="#d22a33"/>
<polygon points="170.6,138.29999999999998 172.35,141.4 168.85,141.4" fill="#d22a33"/>
<polygon points="250.3,110.8 252.05,113.89999999999999 248.55,113.89999999999999" fill="#d22a33"/>
<polygon points="250.3,113.3 252.05,116.39999999999999 248.55,116.39999999999999" fill="#d22a33"/>
<polygon points="250.3,116.3 252.05,119.39999999999999 248.55,119.39999999999999" fill="#d22a33"/>
<polygon points="250.3,122.9 252.05,126.0 248.55,126.0" fill="#d22a33"/>
<polygon points="247,127.00000000000001 248.75,130.10000000000002 245.25,130.10000000000002" fill="#d22a33"/>
<polygon points="253.5,127.00000000000001 255.25,130.10000000000002 251.75,130.10000000000002" fill="#d22a33"/>
<polygon points="250.3,128.79999999999998 252.05,131.9 248.55,131.9" fill="#d22a33"/>
<polygon points="250.3,134.39999999999998 252.05,137.5 248.55,137.5" fill="#d22a33"/>
<polygon points="282.2,104.60000000000001 283.95,107.7 280.45,107.7" fill="#d22a33"/>
<polygon points="282.2,109.2 283.95,112.3 280.45,112.3" fill="#d22a33"/>
<polygon points="282.2,124.9 283.95,128.0 280.45,128.0" fill="#d22a33"/>
<polygon points="278.5,125.8 280.25,128.9 276.75,128.9" fill="#d22a33"/>
<polygon points="285.5,125.8 287.25,128.9 283.75,128.9" fill="#d22a33"/>
<polygon points="282.2,126.7 283.95,129.8 280.45,129.8" fill="#d22a33"/>
<polygon points="279.5,129.89999999999998 281.25,133.0 277.75,133.0" fill="#d22a33"/>
<polygon points="284.5,131.29999999999998 286.25,134.4 282.75,134.4" fill="#d22a33"/>
<polygon points="282.2,132.2 283.95,135.3 280.45,135.3" fill="#d22a33"/>
<polygon points="322.7,87.2 324.45,90.3 320.95,90.3" fill="#d22a33"/>
<polygon points="322.7,97.5 324.45,100.6 320.95,100.6" fill="#d22a33"/>
<polygon points="322.7,111.2 324.45,114.3 320.95,114.3" fill="#d22a33"/>
<polygon points="319,116.2 320.75,119.3 317.25,119.3" fill="#d22a33"/>
<polygon points="326,116.2 327.75,119.3 324.25,119.3" fill="#d22a33"/>
<polygon points="322.7,118.10000000000001 324.45,121.2 320.95,121.2" fill="#d22a33"/>
<polygon points="322.7,120.7 324.45,123.8 320.95,123.8" fill="#d22a33"/>
<polygon points="320,121.9 321.75,125.0 318.25,125.0" fill="#d22a33"/>
<polygon points="325.5,121.9 327.25,125.0 323.75,125.0" fill="#d22a33"/>
<polygon points="354.8,118.8 356.55,121.89999999999999 353.05,121.89999999999999" fill="#d22a33"/>
<polygon points="353,125.60000000000001 354.75,128.70000000000002 351.25,128.70000000000002" fill="#d22a33"/>
<polygon points="356.5,125.60000000000001 358.25,128.70000000000002 354.75,128.70000000000002" fill="#d22a33"/>
<polygon points="351.5,128.1 353.25,131.20000000000002 349.75,131.20000000000002" fill="#d22a33"/>
<polygon points="358,128.1 359.75,131.20000000000002 356.25,131.20000000000002" fill="#d22a33"/>
<polygon points="354.8,130.0 356.55,133.10000000000002 353.05,133.10000000000002" fill="#d22a33"/>
<polygon points="351.5,133.2 353.25,136.3 349.75,136.3" fill="#d22a33"/>
<polygon points="354.8,134.7 356.55,137.8 353.05,137.8" fill="#d22a33"/>
<polygon points="358,136.2 359.75,139.3 356.25,139.3" fill="#d22a33"/>
<polygon points="432.5,106.5 434.25,109.6 430.75,109.6" fill="#d22a33"/>
<polygon points="434.5,109.2 436.25,112.3 432.75,112.3" fill="#d22a33"/>
<polygon points="433,111.10000000000001 434.75,114.2 431.25,114.2" fill="#d22a33"/>
<polygon points="432,120.7 433.75,123.8 430.25,123.8" fill="#d22a33"/>
<polygon points="436,120.7 437.75,123.8 434.25,123.8" fill="#d22a33"/>
<polygon points="434,123.10000000000001 435.75,126.2 432.25,126.2" fill="#d22a33"/>
<polygon points="431,125.8 432.75,128.9 429.25,128.9" fill="#d22a33"/>
<polygon points="437,125.8 438.75,128.9 435.25,128.9" fill="#d22a33"/>
<polygon points="434,126.7 435.75,129.8 432.25,129.8" fill="#d22a33"/>
<polygon points="466.2,107.0 467.95,110.1 464.45,110.1" fill="#d22a33"/>
<polygon points="466.2,110.7 467.95,113.8 464.45,113.8" fill="#d22a33"/>
<polygon points="463.5,117.5 465.25,120.6 461.75,120.6" fill="#d22a33"/>
<polygon points="466,119.4 467.75,122.5 464.25,122.5" fill="#d22a33"/>
<polygon points="468.5,118.2 470.25,121.3 466.75,121.3" fill="#d22a33"/>
<polygon points="466.2,125.8 467.95,128.9 464.45,128.9" fill="#d22a33"/>
<polygon points="466.2,129.5 467.95,132.60000000000002 464.45,132.60000000000002" fill="#d22a33"/>
<polygon points="466.2,132.2 467.95,135.3 464.45,135.3" fill="#d22a33"/>
<polygon points="506.5,102.60000000000001 508.25,105.7 504.75,105.7" fill="#d22a33"/>
<polygon points="506.5,107.8 508.25,110.89999999999999 504.75,110.89999999999999" fill="#d22a33"/>
<polygon points="506.5,113.5 508.25,116.6 504.75,116.6" fill="#d22a33"/>
<polygon points="506.5,119.9 508.25,123.0 504.75,123.0" fill="#d22a33"/>
<polygon points="503,123.2 504.75,126.3 501.25,126.3" fill="#d22a33"/>
<polygon points="509,123.2 510.75,126.3 507.25,126.3" fill="#d22a33"/>
<polygon points="503,127.60000000000001 504.75,130.70000000000002 501.25,130.70000000000002" fill="#d22a33"/>
<polygon points="509,127.60000000000001 510.75,130.70000000000002 507.25,130.70000000000002" fill="#d22a33"/>
<polygon points="506.5,131.0 508.25,134.10000000000002 504.75,134.10000000000002" fill="#d22a33"/>
<polygon points="538,110.2 539.75,113.3 536.25,113.3" fill="#d22a33"/>
<polygon points="533.8,117.3 535.55,120.39999999999999 532.05,120.39999999999999" fill="#d22a33"/>
<polygon points="538,117.3 539.75,120.39999999999999 536.25,120.39999999999999" fill="#d22a33"/>
<polygon points="542,117.3 543.75,120.39999999999999 540.25,120.39999999999999" fill="#d22a33"/>
<polygon points="535,123.9 536.75,127.0 533.25,127.0" fill="#d22a33"/>
<polygon points="541,123.9 542.75,127.0 539.25,127.0" fill="#d22a33"/>
<polygon points="538,127.89999999999999 539.75,131.0 536.25,131.0" fill="#d22a33"/>
<polygon points="535,131.39999999999998 536.75,134.5 533.25,134.5" fill="#d22a33"/>
<polygon points="540,131.39999999999998 541.75,134.5 538.25,134.5" fill="#d22a33"/>
<circle cx="75.30" cy="43.4" r="1.35" fill="#111"/>
<polyline points="60.1,63.1 60.1,48.6 90.8,48.6 90.8,54.4" fill="none" stroke="#8c8c8c" stroke-width="1.0" />
<polyline points="67.4,57.6 67.4,54.4 98.7,54.4 98.7,57.6" fill="none" stroke="#8c8c8c" stroke-width="1.0" />
<polyline points="54,66.2 54,63.1 82,63.1 82,66.2" fill="none" stroke="#8c8c8c" stroke-width="1.0" />
<circle cx="140.40" cy="43.6" r="1.35" fill="#111"/>
<circle cx="144.73" cy="43.6" r="1.35" fill="#111"/>
<circle cx="149.07" cy="43.6" r="1.35" fill="#111"/>
<circle cx="153.40" cy="43.6" r="1.35" fill="#111"/>
<polyline points="132,62.7 132,48.8 162.5,48.8 162.5,53.9" fill="none" stroke="#8c8c8c" stroke-width="1.0" />
<polyline points="139.4,57.5 139.4,53.9 170.7,53.9 170.7,57.5" fill="none" stroke="#8c8c8c" stroke-width="1.0" />
<polyline points="125.5,66.3 125.5,62.7 153.7,62.7 153.7,66.3" fill="none" stroke="#8c8c8c" stroke-width="1.0" />
<circle cx="141.50" cy="71.5" r="1.35" fill="#111"/>
<circle cx="145.83" cy="71.5" r="1.35" fill="#111"/>
<circle cx="150.17" cy="71.5" r="1.35" fill="#111"/>
<circle cx="154.50" cy="71.5" r="1.35" fill="#111"/>
<polyline points="133,83.5 133,76.3 164,76.3 164,80" fill="none" stroke="#d22a33" stroke-width="1.25" stroke-dasharray="1.9,1.2"/>
<polyline points="127,87 127,83.5 140.5,83.5 140.5,86" fill="none" stroke="#d22a33" stroke-width="1.25" stroke-dasharray="1.9,1.2"/>
<polyline points="157.5,83 157.5,80 170,80 170,82.5" fill="none" stroke="#d22a33" stroke-width="1.25" stroke-dasharray="1.9,1.2"/>
<circle cx="136.20" cy="108.8" r="1.2" fill="#111"/>
<circle cx="139.80" cy="108.8" r="1.2" fill="#111"/>
<circle cx="143.40" cy="108.8" r="1.2" fill="#111"/>
<circle cx="331.10" cy="36.2" r="1.35" fill="#111"/>
<polyline points="315.4,54.9 315.4,41.4 346.1,41.4 346.1,46.9" fill="none" stroke="#8c8c8c" stroke-width="1.0" />
<polyline points="323,49.8 323,46.9 353.4,46.9 353.4,49.8" fill="none" stroke="#8c8c8c" stroke-width="1.0" />
<polyline points="309.7,58.6 309.7,54.9 337.3,54.9 337.3,58.6" fill="none" stroke="#8c8c8c" stroke-width="1.0" />
<circle cx="325.30" cy="64.6" r="1.35" fill="#111"/>
<circle cx="329.70" cy="64.6" r="1.35" fill="#111"/>
<circle cx="334.10" cy="64.6" r="1.35" fill="#111"/>
<circle cx="338.50" cy="64.6" r="1.35" fill="#111"/>
<polyline points="316.8,76.2 316.8,69.3 347.4,69.3 347.4,73" fill="none" stroke="#d22a33" stroke-width="1.25" stroke-dasharray="1.9,1.2"/>
<polyline points="310.3,79 310.3,76.2 323.5,76.2 323.5,78.5" fill="none" stroke="#d22a33" stroke-width="1.25" stroke-dasharray="1.9,1.2"/>
<polyline points="340.4,75.5 340.4,73 354.7,73 354.7,75.1" fill="none" stroke="#d22a33" stroke-width="1.25" stroke-dasharray="1.9,1.2"/>
<circle cx="320.90" cy="83.5" r="1.35" fill="#111"/>
<circle cx="324.70" cy="83.5" r="1.35" fill="#111"/>
<line x1="45.5" y1="181.0" x2="176.9" y2="181.0" stroke="#555" stroke-width="1" />
<line x1="2.9" y1="194.8" x2="176.9" y2="194.8" stroke="#555" stroke-width="1" />
<line x1="2.9" y1="214.6" x2="176.9" y2="214.6" stroke="#555" stroke-width="1" />
<line x1="2.4" y1="250.9" x2="177.4" y2="250.9" stroke="#555" stroke-width="1.1" />
<line x1="2.9" y1="194.8" x2="2.9" y2="250.9" stroke="#555" stroke-width="1.1" />
<line x1="45.5" y1="181.0" x2="45.5" y2="250.9" stroke="#555" stroke-width="1" />
<line x1="111.5" y1="181.0" x2="111.5" y2="250.9" stroke="#555" stroke-width="1" />
<line x1="176.9" y1="181.0" x2="176.9" y2="250.9" stroke="#555" stroke-width="1.1" />
<text x="72.5" y="190.5" font-size="7.6" text-anchor="start" font-weight="bold" font-style="normal" fill="#111" textLength="11.6" lengthAdjust="spacingAndGlyphs" >24 h</text>
<text x="137.9" y="190.5" font-size="7.6" text-anchor="start" font-weight="bold" font-style="normal" fill="#111" textLength="11.6" lengthAdjust="spacingAndGlyphs" >72 h</text>
<text x="7.8" y="203.2" font-size="6.9" text-anchor="start" font-weight="bold" font-style="normal" fill="#282828" textLength="26.8" lengthAdjust="spacingAndGlyphs" >Source of</text>
<text x="7.8" y="210.4" font-size="6.9" text-anchor="start" font-weight="bold" font-style="normal" fill="#282828" textLength="27.6" lengthAdjust="spacingAndGlyphs" >Variation</text>
<text x="48.3" y="202.8" font-size="7.0" text-anchor="start" font-weight="bold" font-style="normal" fill="#282828" textLength="27.0" lengthAdjust="spacingAndGlyphs" stroke="#282828" stroke-width="0.1" >% of total</text>
<text x="46.7" y="210.9" font-size="7.0" text-anchor="start" font-weight="bold" font-style="normal" fill="#282828" textLength="25.6" lengthAdjust="spacingAndGlyphs" stroke="#282828" stroke-width="0.1" >variation</text>
<text x="74.2" y="209.3" font-size="4.8" text-anchor="start" font-weight="bold" font-style="normal" fill="#222" >‡</text>
<text x="84.6" y="207.2" font-size="6.5" text-anchor="start" font-weight="normal" font-style="italic" fill="#2a2a2a" textLength="20.2" lengthAdjust="spacingAndGlyphs" stroke="#2a2a2a" stroke-width="0.2" >p value</text>
<text x="114.3" y="202.8" font-size="7.0" text-anchor="start" font-weight="bold" font-style="normal" fill="#282828" textLength="27.0" lengthAdjust="spacingAndGlyphs" stroke="#282828" stroke-width="0.1" >% of total</text>
<text x="112.7" y="210.9" font-size="7.0" text-anchor="start" font-weight="bold" font-style="normal" fill="#282828" textLength="25.6" lengthAdjust="spacingAndGlyphs" stroke="#282828" stroke-width="0.1" >variation</text>
<text x="140.2" y="209.3" font-size="4.8" text-anchor="start" font-weight="bold" font-style="normal" fill="#222" >‡</text>
<text x="150.6" y="207.2" font-size="6.5" text-anchor="start" font-weight="normal" font-style="italic" fill="#2a2a2a" textLength="20.2" lengthAdjust="spacingAndGlyphs" stroke="#2a2a2a" stroke-width="0.2" >p value</text>
<text x="7.9" y="223.0" font-size="6.9" text-anchor="start" font-weight="bold" font-style="normal" fill="#282828" textLength="23.0" lengthAdjust="spacingAndGlyphs" >Glucose</text>
<text x="61.9" y="223.0" font-size="7.5" text-anchor="middle" font-weight="normal" font-style="normal" fill="#444" textLength="11.2" lengthAdjust="spacingAndGlyphs" stroke="#444" stroke-width="0.15" >10.5</text>
<text x="94.8" y="223.0" font-size="7.5" text-anchor="middle" font-weight="normal" font-style="italic" fill="#555" textLength="14.4" lengthAdjust="spacingAndGlyphs" stroke="#555" stroke-width="0.15" >0.076</text>
<text x="127.4" y="223.0" font-size="7.5" text-anchor="middle" font-weight="normal" font-style="normal" fill="#444" textLength="11.2" lengthAdjust="spacingAndGlyphs" stroke="#444" stroke-width="0.15" >40.1</text>
<text x="160.3" y="223.0" font-size="7.5" text-anchor="middle" font-weight="bold" font-style="italic" fill="#222" textLength="21.25" lengthAdjust="spacingAndGlyphs" >&lt;0.0001</text>
<text x="7.9" y="235.0" font-size="6.9" text-anchor="start" font-weight="bold" font-style="normal" fill="#282828" textLength="23.4" lengthAdjust="spacingAndGlyphs" >Oxygen</text>
<text x="61.9" y="235.0" font-size="7.5" text-anchor="middle" font-weight="normal" font-style="normal" fill="#444" textLength="11.2" lengthAdjust="spacingAndGlyphs" stroke="#444" stroke-width="0.15" >15.3</text>
<text x="94.8" y="235.0" font-size="7.5" text-anchor="middle" font-weight="bold" font-style="italic" fill="#222" textLength="14.4" lengthAdjust="spacingAndGlyphs" >0.029</text>
<text x="127.4" y="235.0" font-size="7.5" text-anchor="middle" font-weight="normal" font-style="normal" fill="#444" textLength="11.2" lengthAdjust="spacingAndGlyphs" stroke="#444" stroke-width="0.15" >47.5</text>
<text x="160.3" y="235.0" font-size="7.5" text-anchor="middle" font-weight="bold" font-style="italic" fill="#222" textLength="21.25" lengthAdjust="spacingAndGlyphs" >&lt;0.0001</text>
<text x="7.9" y="247.0" font-size="6.9" text-anchor="start" font-weight="bold" font-style="normal" fill="#282828" textLength="31.0" lengthAdjust="spacingAndGlyphs" >Interaction</text>
<text x="61.9" y="247.0" font-size="7.5" text-anchor="middle" font-weight="normal" font-style="normal" fill="#444" textLength="8.0" lengthAdjust="spacingAndGlyphs" stroke="#444" stroke-width="0.15" >0.3</text>
<text x="94.8" y="247.0" font-size="7.5" text-anchor="middle" font-weight="normal" font-style="italic" fill="#555" textLength="14.4" lengthAdjust="spacingAndGlyphs" stroke="#555" stroke-width="0.15" >0.783</text>
<text x="127.4" y="247.0" font-size="7.5" text-anchor="middle" font-weight="normal" font-style="normal" fill="#444" textLength="11.2" lengthAdjust="spacingAndGlyphs" stroke="#444" stroke-width="0.15" >12.9</text>
<text x="160.3" y="247.0" font-size="7.5" text-anchor="middle" font-weight="bold" font-style="italic" fill="#222" textLength="14.4" lengthAdjust="spacingAndGlyphs" >0.040</text>
<text x="86.2" y="266.4" font-size="11.3" text-anchor="middle" font-weight="normal" font-style="normal" fill="#111" stroke="#111" stroke-width="0.5" >(a)</text>
<line x1="229.5" y1="181.0" x2="360.9" y2="181.0" stroke="#555" stroke-width="1" />
<line x1="186.9" y1="194.8" x2="360.9" y2="194.8" stroke="#555" stroke-width="1" />
<line x1="186.9" y1="214.6" x2="360.9" y2="214.6" stroke="#555" stroke-width="1" />
<line x1="186.4" y1="250.9" x2="361.4" y2="250.9" stroke="#555" stroke-width="1.1" />
<line x1="186.9" y1="194.8" x2="186.9" y2="250.9" stroke="#555" stroke-width="1.1" />
<line x1="229.5" y1="181.0" x2="229.5" y2="250.9" stroke="#555" stroke-width="1" />
<line x1="295.5" y1="181.0" x2="295.5" y2="250.9" stroke="#555" stroke-width="1" />
<line x1="360.9" y1="181.0" x2="360.9" y2="250.9" stroke="#555" stroke-width="1.1" />
<text x="256.5" y="190.5" font-size="7.6" text-anchor="start" font-weight="bold" font-style="normal" fill="#111" textLength="11.6" lengthAdjust="spacingAndGlyphs" >24 h</text>
<text x="321.9" y="190.5" font-size="7.6" text-anchor="start" font-weight="bold" font-style="normal" fill="#111" textLength="11.6" lengthAdjust="spacingAndGlyphs" >72 h</text>
<text x="191.8" y="203.2" font-size="6.9" text-anchor="start" font-weight="bold" font-style="normal" fill="#282828" textLength="26.8" lengthAdjust="spacingAndGlyphs" >Source of</text>
<text x="191.8" y="210.4" font-size="6.9" text-anchor="start" font-weight="bold" font-style="normal" fill="#282828" textLength="27.6" lengthAdjust="spacingAndGlyphs" >Variation</text>
<text x="232.3" y="202.8" font-size="7.0" text-anchor="start" font-weight="bold" font-style="normal" fill="#282828" textLength="27.0" lengthAdjust="spacingAndGlyphs" stroke="#282828" stroke-width="0.1" >% of total</text>
<text x="230.7" y="210.9" font-size="7.0" text-anchor="start" font-weight="bold" font-style="normal" fill="#282828" textLength="25.6" lengthAdjust="spacingAndGlyphs" stroke="#282828" stroke-width="0.1" >variation</text>
<text x="258.2" y="209.3" font-size="4.8" text-anchor="start" font-weight="bold" font-style="normal" fill="#222" >‡</text>
<text x="268.6" y="207.2" font-size="6.5" text-anchor="start" font-weight="normal" font-style="italic" fill="#2a2a2a" textLength="20.2" lengthAdjust="spacingAndGlyphs" stroke="#2a2a2a" stroke-width="0.2" >p value</text>
<text x="298.3" y="202.8" font-size="7.0" text-anchor="start" font-weight="bold" font-style="normal" fill="#282828" textLength="27.0" lengthAdjust="spacingAndGlyphs" stroke="#282828" stroke-width="0.1" >% of total</text>
<text x="296.7" y="210.9" font-size="7.0" text-anchor="start" font-weight="bold" font-style="normal" fill="#282828" textLength="25.6" lengthAdjust="spacingAndGlyphs" stroke="#282828" stroke-width="0.1" >variation</text>
<text x="324.2" y="209.3" font-size="4.8" text-anchor="start" font-weight="bold" font-style="normal" fill="#222" >‡</text>
<text x="334.6" y="207.2" font-size="6.5" text-anchor="start" font-weight="normal" font-style="italic" fill="#2a2a2a" textLength="20.2" lengthAdjust="spacingAndGlyphs" stroke="#2a2a2a" stroke-width="0.2" >p value</text>
<text x="191.9" y="223.0" font-size="6.9" text-anchor="start" font-weight="bold" font-style="normal" fill="#282828" textLength="23.0" lengthAdjust="spacingAndGlyphs" >Glucose</text>
<text x="245.9" y="223.0" font-size="7.5" text-anchor="middle" font-weight="normal" font-style="normal" fill="#444" textLength="8.0" lengthAdjust="spacingAndGlyphs" stroke="#444" stroke-width="0.15" >5.6</text>
<text x="278.8" y="223.0" font-size="7.5" text-anchor="middle" font-weight="normal" font-style="italic" fill="#555" textLength="14.4" lengthAdjust="spacingAndGlyphs" stroke="#555" stroke-width="0.15" >0.210</text>
<text x="311.4" y="223.0" font-size="7.5" text-anchor="middle" font-weight="normal" font-style="normal" fill="#444" textLength="11.2" lengthAdjust="spacingAndGlyphs" stroke="#444" stroke-width="0.15" >19.4</text>
<text x="344.3" y="223.0" font-size="7.5" text-anchor="middle" font-weight="bold" font-style="italic" fill="#222" textLength="14.4" lengthAdjust="spacingAndGlyphs" >0.010</text>
<text x="191.9" y="235.0" font-size="6.9" text-anchor="start" font-weight="bold" font-style="normal" fill="#282828" textLength="23.4" lengthAdjust="spacingAndGlyphs" >Oxygen</text>
<text x="245.9" y="235.0" font-size="7.5" text-anchor="middle" font-weight="normal" font-style="normal" fill="#444" textLength="8.0" lengthAdjust="spacingAndGlyphs" stroke="#444" stroke-width="0.15" >0.5</text>
<text x="278.8" y="235.0" font-size="7.5" text-anchor="middle" font-weight="normal" font-style="italic" fill="#555" textLength="13.93" lengthAdjust="spacingAndGlyphs" stroke="#555" stroke-width="0.15" >0.711</text>
<text x="311.4" y="235.0" font-size="7.5" text-anchor="middle" font-weight="normal" font-style="normal" fill="#444" textLength="11.2" lengthAdjust="spacingAndGlyphs" stroke="#444" stroke-width="0.15" >44.2</text>
<text x="344.3" y="235.0" font-size="7.5" text-anchor="middle" font-weight="bold" font-style="italic" fill="#222" textLength="21.25" lengthAdjust="spacingAndGlyphs" >&lt;0.0001</text>
<text x="191.9" y="247.0" font-size="6.9" text-anchor="start" font-weight="bold" font-style="normal" fill="#282828" textLength="31.0" lengthAdjust="spacingAndGlyphs" >Interaction</text>
<text x="245.9" y="247.0" font-size="7.5" text-anchor="middle" font-weight="normal" font-style="normal" fill="#444" textLength="8.0" lengthAdjust="spacingAndGlyphs" stroke="#444" stroke-width="0.15" >0.4</text>
<text x="278.8" y="247.0" font-size="7.5" text-anchor="middle" font-weight="normal" font-style="italic" fill="#555" textLength="14.4" lengthAdjust="spacingAndGlyphs" stroke="#555" stroke-width="0.15" >0.738</text>
<text x="311.4" y="247.0" font-size="7.5" text-anchor="middle" font-weight="normal" font-style="normal" fill="#444" textLength="11.2" lengthAdjust="spacingAndGlyphs" stroke="#444" stroke-width="0.15" >18.3</text>
<text x="344.3" y="247.0" font-size="7.5" text-anchor="middle" font-weight="bold" font-style="italic" fill="#222" textLength="14.4" lengthAdjust="spacingAndGlyphs" >0.013</text>
<text x="270.2" y="266.4" font-size="11.3" text-anchor="middle" font-weight="normal" font-style="normal" fill="#111" stroke="#111" stroke-width="0.5" >(b)</text>
<line x1="413.5" y1="181.0" x2="544.9" y2="181.0" stroke="#555" stroke-width="1" />
<line x1="370.9" y1="194.8" x2="544.9" y2="194.8" stroke="#555" stroke-width="1" />
<line x1="370.9" y1="214.6" x2="544.9" y2="214.6" stroke="#555" stroke-width="1" />
<line x1="370.4" y1="250.9" x2="545.4" y2="250.9" stroke="#555" stroke-width="1.1" />
<line x1="370.9" y1="194.8" x2="370.9" y2="250.9" stroke="#555" stroke-width="1.1" />
<line x1="413.5" y1="181.0" x2="413.5" y2="250.9" stroke="#555" stroke-width="1" />
<line x1="479.5" y1="181.0" x2="479.5" y2="250.9" stroke="#555" stroke-width="1" />
<line x1="544.9" y1="181.0" x2="544.9" y2="250.9" stroke="#555" stroke-width="1.1" />
<text x="440.5" y="190.5" font-size="7.6" text-anchor="start" font-weight="bold" font-style="normal" fill="#111" textLength="11.6" lengthAdjust="spacingAndGlyphs" >24 h</text>
<text x="505.9" y="190.5" font-size="7.6" text-anchor="start" font-weight="bold" font-style="normal" fill="#111" textLength="11.6" lengthAdjust="spacingAndGlyphs" >72 h</text>
<text x="375.8" y="203.2" font-size="6.9" text-anchor="start" font-weight="bold" font-style="normal" fill="#282828" textLength="26.8" lengthAdjust="spacingAndGlyphs" >Source of</text>
<text x="375.8" y="210.4" font-size="6.9" text-anchor="start" font-weight="bold" font-style="normal" fill="#282828" textLength="27.6" lengthAdjust="spacingAndGlyphs" >Variation</text>
<text x="416.3" y="202.8" font-size="7.0" text-anchor="start" font-weight="bold" font-style="normal" fill="#282828" textLength="27.0" lengthAdjust="spacingAndGlyphs" stroke="#282828" stroke-width="0.1" >% of total</text>
<text x="414.7" y="210.9" font-size="7.0" text-anchor="start" font-weight="bold" font-style="normal" fill="#282828" textLength="25.6" lengthAdjust="spacingAndGlyphs" stroke="#282828" stroke-width="0.1" >variation</text>
<text x="442.2" y="209.3" font-size="4.8" text-anchor="start" font-weight="bold" font-style="normal" fill="#222" >‡</text>
<text x="452.6" y="207.2" font-size="6.5" text-anchor="start" font-weight="normal" font-style="italic" fill="#2a2a2a" textLength="20.2" lengthAdjust="spacingAndGlyphs" stroke="#2a2a2a" stroke-width="0.2" >p value</text>
<text x="482.3" y="202.8" font-size="7.0" text-anchor="start" font-weight="bold" font-style="normal" fill="#282828" textLength="27.0" lengthAdjust="spacingAndGlyphs" stroke="#282828" stroke-width="0.1" >% of total</text>
<text x="480.7" y="210.9" font-size="7.0" text-anchor="start" font-weight="bold" font-style="normal" fill="#282828" textLength="25.6" lengthAdjust="spacingAndGlyphs" stroke="#282828" stroke-width="0.1" >variation</text>
<text x="508.2" y="209.3" font-size="4.8" text-anchor="start" font-weight="bold" font-style="normal" fill="#222" >‡</text>
<text x="518.6" y="207.2" font-size="6.5" text-anchor="start" font-weight="normal" font-style="italic" fill="#2a2a2a" textLength="20.2" lengthAdjust="spacingAndGlyphs" stroke="#2a2a2a" stroke-width="0.2" >p value</text>
<text x="375.9" y="223.0" font-size="6.9" text-anchor="start" font-weight="bold" font-style="normal" fill="#282828" textLength="23.0" lengthAdjust="spacingAndGlyphs" >Glucose</text>
<text x="429.9" y="223.0" font-size="7.5" text-anchor="middle" font-weight="normal" font-style="normal" fill="#444" textLength="8.0" lengthAdjust="spacingAndGlyphs" stroke="#444" stroke-width="0.15" >3.1</text>
<text x="462.8" y="223.0" font-size="7.5" text-anchor="middle" font-weight="normal" font-style="italic" fill="#555" textLength="14.4" lengthAdjust="spacingAndGlyphs" stroke="#555" stroke-width="0.15" >0.349</text>
<text x="495.4" y="223.0" font-size="7.5" text-anchor="middle" font-weight="normal" font-style="normal" fill="#444" textLength="8.0" lengthAdjust="spacingAndGlyphs" stroke="#444" stroke-width="0.15" >3.7</text>
<text x="528.3" y="223.0" font-size="7.5" text-anchor="middle" font-weight="normal" font-style="italic" fill="#555" textLength="14.4" lengthAdjust="spacingAndGlyphs" stroke="#555" stroke-width="0.15" >0.284</text>
<text x="375.9" y="235.0" font-size="6.9" text-anchor="start" font-weight="bold" font-style="normal" fill="#282828" textLength="23.4" lengthAdjust="spacingAndGlyphs" >Oxygen</text>
<text x="429.9" y="235.0" font-size="7.5" text-anchor="middle" font-weight="normal" font-style="normal" fill="#444" textLength="8.0" lengthAdjust="spacingAndGlyphs" stroke="#444" stroke-width="0.15" >7.3</text>
<text x="462.8" y="235.0" font-size="7.5" text-anchor="middle" font-weight="normal" font-style="italic" fill="#555" textLength="14.4" lengthAdjust="spacingAndGlyphs" stroke="#555" stroke-width="0.15" >0.149</text>
<text x="495.4" y="235.0" font-size="7.5" text-anchor="middle" font-weight="normal" font-style="normal" fill="#444" textLength="8.0" lengthAdjust="spacingAndGlyphs" stroke="#444" stroke-width="0.15" >5.5</text>
<text x="528.3" y="235.0" font-size="7.5" text-anchor="middle" font-weight="normal" font-style="italic" fill="#555" textLength="14.4" lengthAdjust="spacingAndGlyphs" stroke="#555" stroke-width="0.15" >0.191</text>
<text x="375.9" y="247.0" font-size="6.9" text-anchor="start" font-weight="bold" font-style="normal" fill="#282828" textLength="31.0" lengthAdjust="spacingAndGlyphs" >Interaction</text>
<text x="429.9" y="247.0" font-size="7.5" text-anchor="middle" font-weight="normal" font-style="normal" fill="#444" textLength="8.0" lengthAdjust="spacingAndGlyphs" stroke="#444" stroke-width="0.15" >0.8</text>
<text x="462.8" y="247.0" font-size="7.5" text-anchor="middle" font-weight="normal" font-style="italic" fill="#555" textLength="14.4" lengthAdjust="spacingAndGlyphs" stroke="#555" stroke-width="0.15" >0.632</text>
<text x="495.4" y="247.0" font-size="7.5" text-anchor="middle" font-weight="normal" font-style="normal" fill="#444" textLength="11.2" lengthAdjust="spacingAndGlyphs" stroke="#444" stroke-width="0.15" >15.7</text>
<text x="528.3" y="247.0" font-size="7.5" text-anchor="middle" font-weight="bold" font-style="italic" fill="#222" textLength="14.4" lengthAdjust="spacingAndGlyphs" >0.022</text>
<text x="454.2" y="266.4" font-size="11.3" text-anchor="middle" font-weight="normal" font-style="normal" fill="#111" stroke="#111" stroke-width="0.5" >(c)</text>
</svg></body></html>
